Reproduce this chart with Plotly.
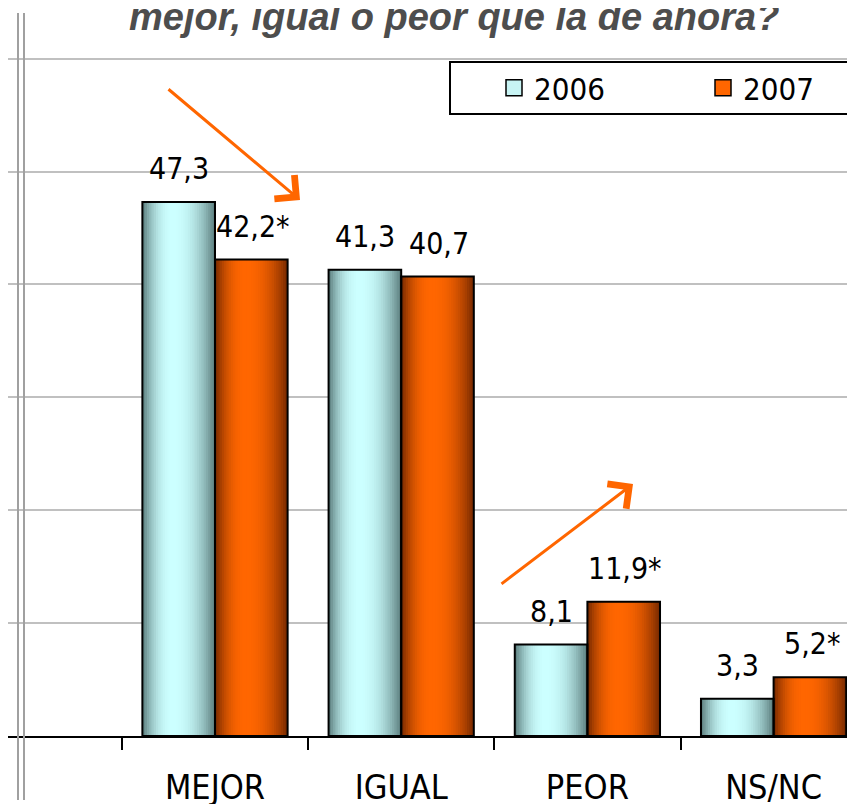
import plotly.graph_objects as go

categories = ["MEJOR", "IGUAL", "PEOR", "NS/NC"]
values_2006 = [47.3, 41.3, 8.1, 3.3]
values_2007 = [42.2, 40.7, 11.9, 5.2]
labels_2006 = ["47,3", "41,3", "8,1", "3,3"]
labels_2007 = ["42,2*", "40,7", "11,9*", "5,2*"]
series_names = ["2006", "2007"]
title_text = "mejor, igual o peor que la de ahora?"

# page body has an 8px margin: figure coords = reference coords - 8
OFF = 8
W, H = 855 - OFF, 804 - OFF
PLOT_BOTTOM = 736 - OFF
PX_PER_UNIT = 11.29
CAT_PX = 186.2
CAT0_X = 215 - OFF
NARROW = "Liberation Sans Narrow, DejaVu Sans Condensed, Arial Narrow, sans-serif"

def mix(c1, c2, w):
    return "rgb(%d,%d,%d)" % tuple(round(a + (b - a) * w) for a, b in zip(c1, c2))

def profile(t, peak=0.42):
    if t < peak:
        d = (peak - t) / peak
    else:
        d = (t - peak) / (1 - peak)
    return max(0.0, 1 - d ** 2.2)

def P(rx, ry):
    """reference pixel -> paper coords"""
    fx, fy = rx - OFF, ry - OFF
    return fx / W, (PLOT_BOTTOM - fy) / PLOT_BOTTOM

BAR_W = 0.39
N = 32
fig = go.Figure()

specs = [
    (values_2006, -BAR_W, (88, 122, 122), (204, 255, 255), "#c8f4f4"),
    (values_2007, 0.0, (115, 40, 0), (255, 102, 0), "#ff6600"),
]
for vals, off, dark, light, solid in specs:
    sw = BAR_W / N
    for i in range(N):
        t = (i + 0.5) / N
        fig.add_trace(go.Bar(
            x=categories, y=vals, width=BAR_W - i * sw,
            offset=off + i * sw,
            marker=dict(color=mix(dark, light, profile(t)), line=dict(width=0)),
            showlegend=False, hoverinfo="skip"))
for vals, off, dark, light, solid in specs:
    fig.add_trace(go.Bar(
        x=categories, y=vals, width=BAR_W, offset=off,
        marker=dict(color="rgba(0,0,0,0)", line=dict(color="black", width=2)),
        showlegend=False, hoverinfo="skip"))

for name, (_, _, _, _, solid) in zip(series_names, specs):
    fig.add_trace(go.Scatter(
        x=[None], y=[None], mode="markers", name=name,
        marker=dict(symbol="square", size=16, color=solid,
                    line=dict(color="black", width=1.5))))

annotations = []
for cat, v, lab in zip(categories, values_2006, labels_2006):
    annotations.append(dict(x=cat, y=v, text=lab, showarrow=False, xshift=-36,
                            yanchor="bottom", yshift=14,
                            font=dict(family=NARROW, size=30, color="black")))
for cat, v, lab in zip(categories, values_2007, labels_2007):
    annotations.append(dict(x=cat, y=v, text=lab, showarrow=False, xshift=38,
                            yanchor="bottom", yshift=14,
                            font=dict(family=NARROW, size=30, color="black")))

tx, ty = P(454, 17)
annotations.append(dict(
    x=tx, y=ty, xref="paper", yref="paper",
    text="<b><i>" + title_text + "</i></b>", showarrow=False,
    xanchor="center", yanchor="middle",
    font=dict(family="Liberation Sans, Arial, sans-serif", size=38, color="#4d4d4d")))

for (hx, hy), (sx, sy) in [((300, 200), (167, 88)), ((633, 484), (500, 585))]:
    px, py = P(hx, hy)
    annotations.append(dict(
        x=px, y=py, xref="paper", yref="paper", text="", showarrow=True,
        ax=sx - hx, ay=sy - hy, arrowcolor="#ff6600", arrowwidth=3,
        arrowhead=4, arrowsize=2))

shapes = []
for lx in (18, 24):
    x0, y0 = P(lx, 13)
    _, y1 = P(lx, 800)
    shapes.append(dict(type="line", xref="paper", yref="paper",
                       x0=x0, x1=x0, y0=y0, y1=y1,
                       line=dict(color="#a0a0a0", width=2)))
bx0, by0 = P(450, 62)
_, by1 = P(450, 114)
shapes.append(dict(type="rect", xref="paper", yref="paper", layer="above",
                   x0=bx0, x1=1.05, y0=by1, y1=by0,
                   fillcolor="white", line=dict(color="black", width=2)))

lgx, lgy = P(494, 88)
x_left = (0 - CAT0_X) / CAT_PX
x_right = (W - CAT0_X) / CAT_PX
fig.update_layout(
    width=W, height=H,
    margin=dict(l=0, r=0, t=0, b=H - PLOT_BOTTOM, autoexpand=False),
    paper_bgcolor="white", plot_bgcolor="white",
    barmode="overlay",
    showlegend=True,
    legend=dict(orientation="h", x=lgx, y=lgy, xanchor="left", yanchor="middle",
                bgcolor="rgba(0,0,0,0)", borderwidth=0,
                font=dict(family=NARROW, size=31, color="black"),
                entrywidth=164, entrywidthmode="pixels"),
    xaxis=dict(type="category", range=[x_left, x_right], tickson="boundaries",
               ticks="outside", ticklen=12, tickwidth=2, tickcolor="black",
               showline=True, linecolor="black", linewidth=2, showgrid=False,
               tickfont=dict(family=NARROW, size=34, color="black"),
               ticklabelstandoff=20),
    yaxis=dict(range=[0, PLOT_BOTTOM / PX_PER_UNIT], dtick=10, showticklabels=False,
               showgrid=True, gridcolor="#c0c0c0", gridwidth=2, zeroline=False,
               ticks=""),
    annotations=annotations,
    shapes=shapes,
)

fig.write_html("out.html")
